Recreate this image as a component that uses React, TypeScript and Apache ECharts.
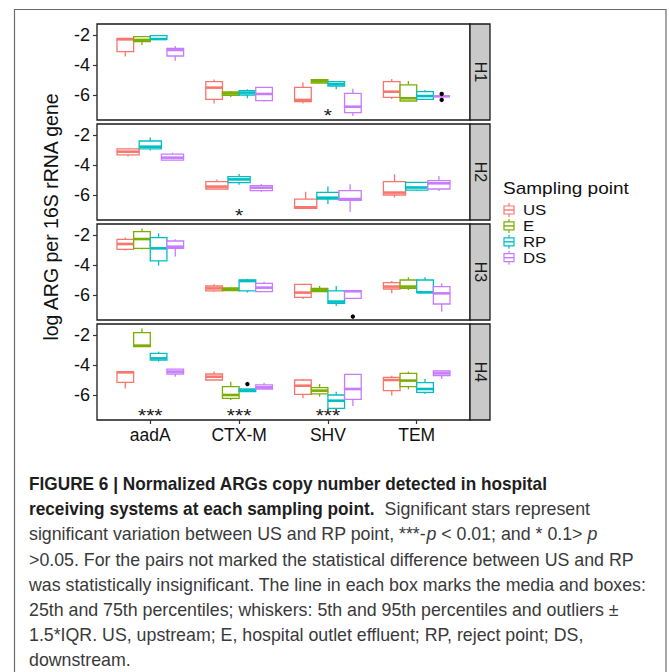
import React, { useEffect, useRef } from "react";
import * as echarts from "echarts";

const GENES = ["aadA", "CTX-M", "SHV", "TEM"];
const GROUPS = ["US", "E", "RP", "DS"];
const GROUP_COLORS = ["#F8766D", "#7CAE00", "#00BFC4", "#C77CFF"];
const PANELS = ["H1", "H2", "H3", "H4"];
const Y_TICKS = [-6, -4, -2];
const Y_TITLE = "log ARG per 16S rRNA gene";
const LEGEND_TITLE = "Sampling point";

// rows: aadA, CTX-M, SHV, TEM ; each [lower whisker, Q1, median, Q3, upper whisker]
const H1_US = [[-3.44, -3.11, -2.29, -2.22, -2.22], [-6.56, -6.29, -5.51, -5.11, -4.96], [-6.56, -6.44, -6.33, -5.49, -5.16], [-6.27, -6.16, -5.78, -5.11, -4.93]];
const H1_E = [[-2.67, -2.44, -2.33, -2.11, -2.11], [-6.13, -6.02, -5.9, -5.8, -5.73], [-5.24, -5.2, -5.08, -4.98, -4.96], [-6.4, -6.4, -6.22, -5.33, -5.07]];
const H1_RP = [[-2.29, -2.29, -2.27, -2.04, -2.04], [-6.22, -6.0, -5.84, -5.71, -5.62], [-5.62, -5.4, -5.27, -5.11, -5.11], [-6.29, -6.29, -6.07, -5.78, -5.67]];
const H1_DS = [[-3.71, -3.4, -3.0, -2.89, -2.73], [-6.44, -6.38, -5.93, -5.49, -5.49], [-7.4, -7.18, -6.78, -5.89, -5.58], [-6.09, -6.09, -6.09, -6.09, -6.09]];

const H2_US = [[-3.44, -3.33, -3.11, -2.93, -2.89], [-5.6, -5.6, -5.44, -5.11, -4.96], [-6.89, -6.89, -6.82, -6.27, -5.78], [-6.16, -6.0, -5.84, -5.11, -4.62]];
const H2_RP = [[-3.04, -2.93, -2.78, -2.4, -2.16], [-5.31, -5.18, -4.96, -4.78, -4.6], [-6.6, -6.27, -6.18, -5.82, -5.44], [-5.73, -5.67, -5.5, -5.16, -5.16]];
const H2_DS = [[-3.67, -3.67, -3.51, -3.27, -3.18], [-5.78, -5.71, -5.51, -5.38, -5.27], [-7.11, -6.36, -6.27, -5.71, -5.29], [-5.73, -5.6, -5.22, -5.04, -4.73]];

const H3_US = [[-3.04, -2.96, -2.6, -2.29, -2.16], [-5.78, -5.73, -5.56, -5.4, -5.29], [-6.27, -6.16, -5.84, -5.29, -5.29], [-5.89, -5.6, -5.44, -5.18, -5.07]];
const H3_E = [[-2.96, -2.89, -2.27, -1.78, -1.56], [-5.73, -5.71, -5.62, -5.53, -5.5], [-5.78, -5.78, -5.67, -5.56, -5.4], [-5.67, -5.56, -5.44, -5.0, -4.82]];
const H3_RP = [[-4.04, -3.73, -2.89, -2.18, -1.89], [-5.84, -5.73, -5.07, -5.0, -4.93], [-6.73, -6.56, -6.44, -5.73, -5.4], [-5.84, -5.84, -5.82, -5.0, -4.82]];
const H3_DS = [[-3.44, -2.89, -2.78, -2.4, -2.29], [-5.78, -5.78, -5.51, -5.22, -5.11], [-6.22, -6.22, -5.75, -5.71, -5.71], [-7.11, -6.6, -5.89, -5.44, -5.22]];

const H4_US = [[-5.56, -5.16, -4.49, -4.44, -4.44], [-5.0, -5.0, -4.78, -4.6, -4.44], [-6.22, -5.96, -5.38, -5.0, -4.93], [-6.04, -5.71, -5.0, -4.82, -4.71]];
const H4_E = [[-2.78, -2.78, -2.71, -1.84, -1.56], [-6.33, -6.22, -6.0, -5.44, -5.11], [-6.11, -5.93, -5.71, -5.51, -5.27], [-5.62, -5.44, -5.04, -4.56, -4.44]];
const H4_RP = [[-3.78, -3.67, -3.56, -3.22, -3.11], [-5.78, -5.78, -5.71, -5.6, -5.6], [-6.89, -6.89, -6.38, -6.0, -5.78], [-5.93, -5.82, -5.6, -5.18, -4.93]];
const H4_DS = [[-4.78, -4.6, -4.44, -4.27, -4.27], [-5.6, -5.6, -5.49, -5.33, -5.18], [-6.73, -6.29, -5.6, -4.62, -4.62], [-4.93, -4.71, -4.56, -4.4, -4.4]];

const H1_BOXES: Record<string, number[][]> = { US: H1_US, E: H1_E, RP: H1_RP, DS: H1_DS };
const H2_BOXES: Record<string, number[][]> = { US: H2_US, RP: H2_RP, DS: H2_DS };
const H3_BOXES: Record<string, number[][]> = { US: H3_US, E: H3_E, RP: H3_RP, DS: H3_DS };
const H4_BOXES: Record<string, number[][]> = { US: H4_US, E: H4_E, RP: H4_RP, DS: H4_DS };
const PANEL_BOXES = [H1_BOXES, H2_BOXES, H3_BOXES, H4_BOXES];

// [panel, gene, group, value]
const OUTLIERS: [string, string, string, number][] = [
  ["H1", "TEM", "DS", -5.93],
  ["H1", "TEM", "DS", -6.33],
  ["H3", "SHV", "DS", -7.44],
  ["H4", "CTX-M", "RP", -5.27],
];

// [panel, gene, label]
const STARS: [string, string, string][] = [
  ["H1", "SHV", "*"],
  ["H2", "CTX-M", "*"],
  ["H4", "aadA", "***"],
  ["H4", "CTX-M", "***"],
  ["H4", "SHV", "***"],
];
const STAR_Y = -7.2;

const CAPTION: [string, string][][] = [
  [["b", "FIGURE 6 | Normalized ARGs copy number detected in hospital"]],
  [["b", "receiving systems at each sampling point."], ["r", "  Significant stars represent"]],
  [["r", "significant variation between US and RP point, ***-"], ["i", "p"], ["r", " < 0.01; and * 0.1> "], ["i", "p"]],
  [["r", ">0.05. For the pairs not marked the statistical difference between US and RP"]],
  [["r", "was statistically insignificant. The line in each box marks the media and boxes:"]],
  [["r", "25th and 75th percentiles; whiskers: 5th and 95th percentiles and outliers ±"]],
  [["r", "1.5*IQR. US, upstream; E, hospital outlet effluent; RP, reject point; DS,"]],
  [["r", "downstream."]],
];

// layout
const FONT = "Liberation Sans";
const P_LEFT = 97;
const P_WIDTH = 373;
const P_TOP0 = 24;
const P_HEIGHT = 96;
const P_STEP = 100;
const STRIP_W = 20;
const X_MIN = 0.4;
const X_MAX = 4.6;
const Y_MIN = -7.667;
const Y_MAX = -1.267;
const DODGE = 0.75;
const STAR_FONT = 14;
const CAP_FONT = 18;

function boxRender(params: any, api: any) {
  const gi = api.value(0);
  const slot = api.value(1);
  const n = api.value(2);
  const ci = api.value(3);
  const lo = api.value(4), q1 = api.value(5), med = api.value(6), q3 = api.value(7), hi = api.value(8);
  const w = DODGE / n;
  const c = gi - DODGE / 2 + w * (slot + 0.5);
  const pL = api.coord([c - w / 2, med]);
  const pR = api.coord([c + w / 2, med]);
  const xc = api.coord([c, med])[0];
  const yLo = api.coord([c, lo])[1];
  const yQ1 = api.coord([c, q1])[1];
  const yQ3 = api.coord([c, q3])[1];
  const yHi = api.coord([c, hi])[1];
  const color = GROUP_COLORS[ci];
  const lw = 1.3;
  return {
    type: "group",
    children: [
      { type: "line", shape: { x1: xc, y1: yQ3, x2: xc, y2: yHi }, style: { stroke: color, lineWidth: lw } },
      { type: "line", shape: { x1: xc, y1: yQ1, x2: xc, y2: yLo }, style: { stroke: color, lineWidth: lw } },
      {
        type: "rect",
        shape: { x: pL[0], y: yQ3, width: pR[0] - pL[0], height: yQ1 - yQ3 },
        style: { fill: "#ffffff", stroke: color, lineWidth: lw },
      },
      { type: "line", shape: { x1: pL[0], y1: pL[1], x2: pR[0], y2: pR[1] }, style: { stroke: color, lineWidth: 2.6 } },
    ],
  };
}

function outlierRender(params: any, api: any) {
  const gi = api.value(0);
  const slot = api.value(1);
  const n = api.value(2);
  const v = api.value(3);
  const w = DODGE / n;
  const c = gi - DODGE / 2 + w * (slot + 0.5);
  const p = api.coord([c, v]);
  return { type: "circle", shape: { cx: p[0], cy: p[1], r: 2.2 }, style: { fill: "#000000" } };
}

function starRender(params: any, api: any) {
  const gi = api.value(0);
  const v = api.value(1);
  const idx = api.value(2);
  const p = api.coord([gi, v]);
  return {
    type: "text",
    x: p[0],
    y: p[1] + STAR_FONT * 0.23,
    scaleX: 1.5,
    scaleY: 1.25,
    style: {
      text: STARS[idx][2],
      fill: "#1a1a1a",
      font: `${STAR_FONT}px "${FONT}"`,
      align: "center",
      verticalAlign: "middle",
    },
  };
}

function measure(ctx: CanvasRenderingContext2D, kind: string, text: string) {
  const style = kind === "b" ? "bold " : kind === "i" ? "italic " : "";
  ctx.font = `${style}${CAP_FONT}px "${FONT}"`;
  return ctx.measureText(text).width;
}

export default function App() {
  const ref = useRef<HTMLDivElement>(null);

  useEffect(() => {
    if (!ref.current) return;
    const chart = echarts.init(ref.current, undefined, { renderer: "svg" });

    const grids: any[] = [];
    const xAxes: any[] = [];
    const yAxes: any[] = [];
    const series: any[] = [];
    const graphics: any[] = [];

    PANELS.forEach((panel, p) => {
      const top = P_TOP0 + P_STEP * p;
      const isLast = p === PANELS.length - 1;
      grids.push({
        left: P_LEFT,
        top,
        width: P_WIDTH,
        height: P_HEIGHT,
        show: true,
        backgroundColor: "#ffffff",
        borderColor: "#1a1a1a",
        borderWidth: 1.3,
        containLabel: false,
      });
      xAxes.push({
        gridIndex: p,
        type: "value",
        min: X_MIN,
        max: X_MAX,
        axisLine: { show: false, onZero: false },
        splitLine: { show: false },
        axisTick: { show: isLast, customValues: [1, 2, 3, 4], length: 4, lineStyle: { color: "#333333", width: 1.2 } },
        axisLabel: {
          show: isLast,
          customValues: [1, 2, 3, 4],
          formatter: (v: number) => GENES[Math.round(v) - 1] ?? "",
          fontSize: 17.5,
          fontFamily: FONT,
          color: "#111111",
          margin: 6,
        },
      });
      yAxes.push({
        gridIndex: p,
        type: "value",
        min: Y_MIN,
        max: Y_MAX,
        axisLine: { show: false, onZero: false },
        splitLine: { show: false },
        axisTick: { show: true, customValues: Y_TICKS, length: 4, lineStyle: { color: "#333333", width: 1.2 } },
        axisLabel: {
          customValues: Y_TICKS,
          fontSize: 18,
          fontFamily: FONT,
          color: "#111111",
          margin: 7,
        },
      });

      const boxes = PANEL_BOXES[p];
      const present = GROUPS.filter((g) => boxes[g]);
      const n = present.length;
      const boxData: number[][] = [];
      present.forEach((g, slot) => {
        boxes[g].forEach((st, gi) => {
          boxData.push([gi + 1, slot, n, GROUPS.indexOf(g), ...st]);
        });
      });
      series.push({
        type: "custom",
        xAxisIndex: p,
        yAxisIndex: p,
        renderItem: boxRender,
        data: boxData,
        silent: true,
        clip: false,
        z: 2,
      });

      const outData = OUTLIERS.filter((o) => o[0] === panel).map((o) => [
        GENES.indexOf(o[1]) + 1,
        present.indexOf(o[2]),
        n,
        o[3],
      ]);
      if (outData.length) {
        series.push({
          type: "custom",
          xAxisIndex: p,
          yAxisIndex: p,
          renderItem: outlierRender,
          data: outData,
          silent: true,
          clip: false,
          z: 3,
        });
      }

      const starData: number[][] = [];
      STARS.forEach((s, i) => {
        if (s[0] === panel) starData.push([GENES.indexOf(s[1]) + 1, STAR_Y, i]);
      });
      if (starData.length) {
        series.push({
          type: "custom",
          xAxisIndex: p,
          yAxisIndex: p,
          renderItem: starRender,
          data: starData,
          silent: true,
          clip: false,
          z: 3,
        });
      }

      // strip
      graphics.push({
        type: "rect",
        shape: { x: P_LEFT + P_WIDTH, y: top, width: STRIP_W, height: P_HEIGHT },
        style: { fill: "#C9C9C9", stroke: "#1a1a1a", lineWidth: 1.3 },
        z: 10,
      });
      graphics.push({
        type: "text",
        x: P_LEFT + P_WIDTH + STRIP_W / 2,
        y: top + P_HEIGHT / 2,
        rotation: -Math.PI / 2,
        style: {
          text: panel,
          font: `16px "${FONT}"`,
          fill: "#1a1a1a",
          align: "center",
          verticalAlign: "middle",
        },
        z: 11,
      });
    });

    // outer frame
    graphics.push({
      type: "rect",
      shape: { x: 14.5, y: 9.5, width: 651.5, height: 700 },
      style: { fill: "none", stroke: "#6b6b6b", lineWidth: 1.2 },
      z: 1,
    });

    // y title
    graphics.push({
      type: "text",
      x: 51,
      y: 217,
      rotation: Math.PI / 2,
      style: {
        text: Y_TITLE,
        font: `19.5px "${FONT}"`,
        fill: "#111111",
        align: "center",
        verticalAlign: "middle",
      },
      z: 10,
    });

    // legend
    const LG_X = 503;
    graphics.push({
      type: "text",
      x: LG_X,
      y: 188,
      scaleX: 1.12,
      style: { text: LEGEND_TITLE, font: `17px "${FONT}"`, fill: "#111111", align: "left", verticalAlign: "middle" },
      z: 10,
    });
    GROUPS.forEach((g, i) => {
      const cy = 210 + 15.9 * i;
      const color = GROUP_COLORS[i];
      const cx = LG_X + 6;
      graphics.push({
        type: "line",
        shape: { x1: cx, y1: cy - 7, x2: cx, y2: cy + 7 },
        style: { stroke: color, lineWidth: 1.2 },
        z: 10,
      });
      graphics.push({
        type: "rect",
        shape: { x: LG_X + 1, y: cy - 4, width: 10, height: 8 },
        style: { fill: "#ffffff", stroke: color, lineWidth: 1.2 },
        z: 11,
      });
      graphics.push({
        type: "line",
        shape: { x1: LG_X + 1, y1: cy, x2: LG_X + 11, y2: cy },
        style: { stroke: color, lineWidth: 1.4 },
        z: 12,
      });
      graphics.push({
        type: "text",
        x: LG_X + 20,
        y: cy,
        scaleX: 1.12,
        style: { text: g, font: `15px "${FONT}"`, fill: "#111111", align: "left", verticalAlign: "middle" },
        z: 10,
      });
    });

    // caption
    const canvas = document.createElement("canvas");
    const ctx = canvas.getContext("2d") as CanvasRenderingContext2D;
    const sr = 618 / measure(ctx, "r", CAPTION[4][0][1]);
    const sb = 204 / measure(ctx, "b", "FIGURE 6 | Normalized A");
    const RICH = {
      b: { fontSize: CAP_FONT, fontWeight: "bold", fontFamily: FONT, fill: "#1e1e1e" },
      r: { fontSize: CAP_FONT, fontFamily: FONT, fill: "#3a3a3a" },
      i: { fontSize: CAP_FONT, fontStyle: "italic", fontFamily: FONT, fill: "#3a3a3a" },
    };
    CAPTION.forEach((line, li) => {
      const chunks: { bold: boolean; segs: [string, string][] }[] = [];
      line.forEach((seg) => {
        const bold = seg[0] === "b";
        const last = chunks[chunks.length - 1];
        if (last && last.bold === bold) last.segs.push(seg);
        else chunks.push({ bold, segs: [seg] });
      });
      let x = 29;
      chunks.forEach((ch) => {
        const s = ch.bold ? sb : sr;
        const natural = ch.segs.reduce((acc, [k, t]) => acc + measure(ctx, k, t), 0);
        graphics.push({
          type: "text",
          x,
          y: 484 + 25.2 * li,
          scaleX: s,
          style: {
            text: ch.segs.map(([k, t]) => `{${k}|${t}}`).join(""),
            align: "left",
            verticalAlign: "middle",
            rich: RICH,
          },
          z: 10,
        });
        x += natural * s;
      });
    });

    chart.setOption({
      animation: false,
      backgroundColor: "#ffffff",
      textStyle: { fontFamily: FONT },
      grid: grids,
      xAxis: xAxes,
      yAxis: yAxes,
      series,
      graphic: { elements: graphics },
    });

    return () => chart.dispose();
  }, []);

  return (
    <div
      ref={ref}
      style={{ position: "absolute", left: 0, top: 0, width: 669, height: 672, background: "#ffffff" }}
    />
  );
}
